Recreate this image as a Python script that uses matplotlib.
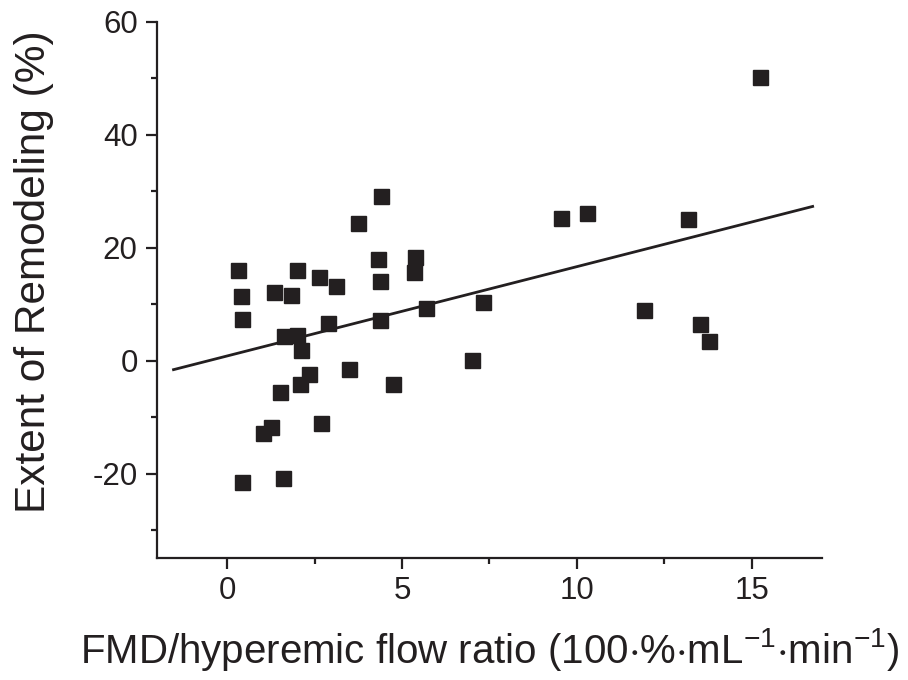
import numpy as np
import matplotlib.pyplot as plt
from matplotlib.ticker import MultipleLocator

# scatter data
fmd_ratio = [0.30, 0.40, 0.43, 1.34, 1.84, 2.00, 2.62, 3.12, 4.31, 4.38,
             5.38, 5.35, 1.64, 2.01, 2.10, 2.88, 4.36, 5.68, 7.31, 2.34,
             2.08, 1.52, 3.49, 4.74, 7.01, 1.26, 1.03, 2.70, 0.42, 1.59,
             4.39, 3.75, 15.23, 9.56, 10.30, 13.19, 11.91, 13.53, 13.78]
remodeling = [16.1, 11.5, 7.3, 12.1, 11.6, 16.0, 14.8, 13.2, 18.0, 14.1,
              18.3, 15.7, 4.3, 4.6, 1.9, 6.7, 7.2, 9.3, 10.3, -2.4,
              -4.2, -5.5, -1.4, -4.1, 0.05, -11.8, -12.9, -11.1, -21.5, -20.8,
              29.2, 24.4, 50.2, 25.3, 26.1, 25.0, 9.0, 6.4, 3.5]

# regression line end points
fit_x = [-1.53, 16.74]
fit_y = [-1.6, 27.3]

plt.rcParams['font.family'] = ['Liberation Sans', 'DejaVu Sans']
plt.rcParams['axes.unicode_minus'] = False
plt.rcParams['mathtext.fontset'] = 'custom'
plt.rcParams['mathtext.rm'] = 'Liberation Sans'
plt.rcParams['mathtext.it'] = 'Liberation Sans'
plt.rcParams['mathtext.default'] = 'regular'

ink = '#231f20'

fig = plt.figure(figsize=(9.08, 6.8), dpi=100)
ax = fig.add_axes([0.173, 0.179, 0.732, 0.789])

ax.plot(fit_x, fit_y, color=ink, lw=2)
ax.plot(fmd_ratio, remodeling, ls='none', marker='s', ms=10.8,
        color=ink, mec=ink)

ax.set_xlim(-2, 17)
ax.set_ylim(-35, 60)
ax.xaxis.set_major_locator(MultipleLocator(5))
ax.xaxis.set_minor_locator(MultipleLocator(2.5))
ax.yaxis.set_major_locator(MultipleLocator(20))
ax.yaxis.set_minor_locator(MultipleLocator(10))

for s in ['top', 'right']:
    ax.spines[s].set_visible(False)
for s in ['left', 'bottom']:
    ax.spines[s].set_linewidth(1.6)
    ax.spines[s].set_color(ink)

ax.tick_params(which='major', direction='out', length=8, width=1.6,
               labelsize=22.5, color=ink, labelcolor=ink)
ax.tick_params(axis='x', which='major', pad=5)
ax.tick_params(axis='y', which='major', pad=6)
ax.tick_params(which='minor', direction='out', length=4, width=1.6,
               color=ink)

ax.set_xlabel(r'FMD/hyperemic flow ratio (100$\cdot$%$\cdot$mL$^{-1}$$\cdot$min$^{-1}$)',
              fontsize=29, color=ink, labelpad=14)
ax.set_ylabel('Extent of Remodeling (%)', fontsize=30.5, color=ink)
ax.yaxis.set_label_coords(-0.155, 0.535)

plt.savefig('out.png', dpi=100)
